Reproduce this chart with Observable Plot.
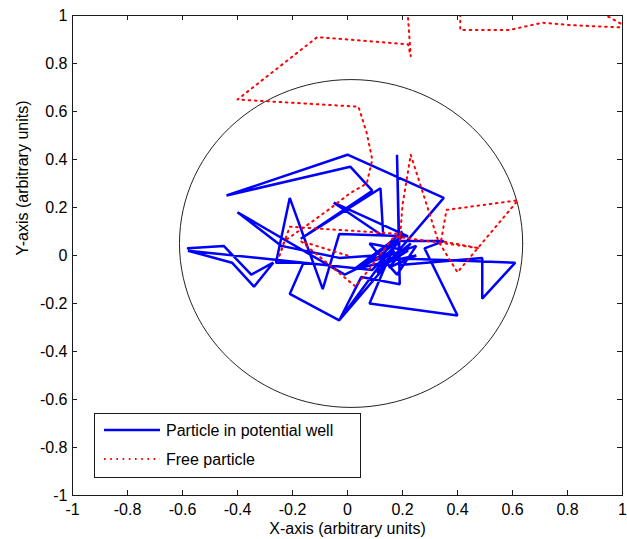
<!DOCTYPE html>
<html>
<head>
<meta charset="utf-8">
<script src="https://cdn.jsdelivr.net/npm/d3@7"></script>
<script src="https://cdn.jsdelivr.net/npm/@observablehq/plot@0.6"></script>
<style>
  html, body { margin: 0; padding: 0; background: #fff; }
  #chart { position: relative; width: 627px; height: 539px; }
</style>
</head>
<body>
<div id="chart"></div>
<script>
// ---- data ----
const xTicks = [-1, -0.8, -0.6, -0.4, -0.2, 0, 0.2, 0.4, 0.6, 0.8, 1];
const yTicks = [-1, -0.8, -0.6, -0.4, -0.2, 0, 0.2, 0.4, 0.6, 0.8, 1];
const xLabel = "X-axis (arbitrary units)";
const yLabel = "Y-axis (arbitrary units)";
const seriesNames = ["Particle in potential well", "Free particle"];

// Particle in potential well (blue solid)
const wellX = [-0.58, -0.45, -0.35, -0.27, -0.34, -0.42, -0.58, 0.09, 0.19, 0.35, 0.28, 0.40, 0.08, 0.15, 0.61, 0.49, 0.49, 0.19,
  0.18, 0.19, 0.05, -0.03, 0.35, 0.00, -0.44, 0.01, 0.09, -0.17, 0.12, 0.13, -0.05, 0.22, -0.03, -0.09, -0.21, -0.26, -0.16,
  -0.21, -0.03, 0.15, -0.01, -0.40, -0.24, -0.03, 0.10, 0.20, 0.05, 0.25, 0.15, 0.23,
  0.12, 0.22, 0.08, 0.18, 0.25, 0.10, 0.20, 0.02, 0.15, 0.06, 0.17, 0.11];
const wellY = [0.03, 0.04, -0.08, -0.03, -0.13, -0.03, 0.02, -0.06, 0.06, 0.06, 0.03, -0.25, -0.20, -0.01, -0.03, -0.18, -0.01, -0.04,
  0.42, -0.12, -0.09, -0.27, 0.24, 0.42, 0.25, 0.37, 0.27, 0.07, 0.28, 0.08, 0.22, 0.08, 0.09, -0.14, 0.24, -0.03, -0.03,
  -0.16, -0.27, 0.01, -0.08, 0.18, 0.04, -0.01, 0.00, 0.10, -0.05, 0.00, -0.05, 0.05,
  -0.05, 0.02, 0.05, -0.08, 0.04, -0.02, 0.08, -0.06, 0.05, -0.03, 0.02, -0.07];

// Free particle (red dotted)
const freeX = [0.00, -0.17, 0.03, 0.17, 0.48, 0.34, 0.36, 0.62, 0.40, 0.33, 0.23, 0.20, 0.19, 0.19, -0.21, -0.25, -0.23, -0.13,
  -0.07, 0.01, 0.07, 0.09, 0.07, 0.04, -0.40, -0.11, 0.22, 0.23, 0.21, 0.41, 0.41, 0.59, 0.71, 0.81, 1.00, 1.08, 1.08, 0.88];
const freeY = [0.00, 0.06, -0.13, 0.08, 0.03, 0.06, 0.19, 0.23, -0.07, 0.06, 0.42, 0.21, 0.06, 0.09, 0.12, -0.01, 0.06, 0.14,
  0.19, 0.26, 0.30, 0.40, 0.51, 0.62, 0.65, 0.91, 0.88, 0.83, 1.15, 1.15, 0.94, 0.94, 0.97, 0.96, 0.95, 0.94, 0.91, 1.04];

// Boundary of the well (center and radii in data units)
const wellCenter = [0.013, 0.05];
const wellRadii = [0.624, 0.683];

// ---- build tables ----
const well = wellX.map((x, i) => ({x, y: wellY[i]}));
const free = freeX.map((x, i) => ({x, y: freeY[i]}));
const circle = d3.range(0, 361, 3).map(a => ({
  x: wellCenter[0] + wellRadii[0] * Math.cos(a * Math.PI / 180),
  y: wellCenter[1] + wellRadii[1] * Math.sin(a * Math.PI / 180)
}));

const W = 627, H = 539, mL = 72, mR = 5, mT = 15, mB = 44;
const innerW = W - mL - mR, innerH = H - mT - mB;
const tick = 5;
const ink = "#1a1a1a";
const font = "'Liberation Sans', Arial, sans-serif";

const plot = Plot.plot({
  width: W, height: H,
  marginLeft: mL, marginRight: mR, marginTop: mT, marginBottom: mB,
  x: {domain: [-1, 1]},
  y: {domain: [-1, 1]},
  style: {fontFamily: font, fontSize: "16px", color: "#000", background: "#fff", overflow: "visible"},
  marks: [
    Plot.line(circle, {x: "x", y: "y", stroke: "#222", strokeWidth: 1}),
    Plot.line(well, {x: "x", y: "y", stroke: "#0000ff", strokeWidth: 2.5, strokeLinejoin: "miter", clip: true}),
    Plot.line(free, {x: "x", y: "y", stroke: "#ff0000", strokeWidth: 2, strokeDasharray: "1.6,4.6", clip: true}),
    Plot.frame({stroke: ink, strokeWidth: 1}),
    Plot.tickX(xTicks, {x: d => d, insetTop: innerH - tick, stroke: ink}),
    Plot.tickX(xTicks, {x: d => d, insetBottom: innerH - tick, stroke: ink}),
    Plot.tickY(yTicks, {y: d => d, insetRight: innerW - tick, stroke: ink}),
    Plot.tickY(yTicks, {y: d => d, insetLeft: innerW - tick, stroke: ink}),
    Plot.axisX({ticks: xTicks, tickSize: 0, tickPadding: 8, tickFormat: d => String(d), label: null}),
    Plot.axisY({ticks: yTicks, tickSize: 0, tickPadding: 5, tickFormat: d => String(d), label: null}),
    Plot.text([xLabel], {frameAnchor: "bottom", lineAnchor: "middle", dy: 33, text: d => d, fill: "#000"}),
    Plot.text([yLabel], {frameAnchor: "left", dx: -50, rotate: -90, text: d => d, fill: "#000"})
  ]
});
document.getElementById("chart").appendChild(plot);

// ---- legend (inside plot area, lower left) ----
const svg = d3.select(plot);
const lg = svg.append("g").attr("font-family", font).attr("font-size", 16).attr("text-anchor", "start");
lg.append("rect").attr("x", 94.5).attr("y", 413.5).attr("width", 266).attr("height", 64)
  .attr("fill", "#fff").attr("stroke", ink).attr("stroke-width", 1);
const entries = [
  {name: seriesNames[0], stroke: "#0000ff", dash: null, w: 2.5, y: 430},
  {name: seriesNames[1], stroke: "#ff0000", dash: "1.6,4.6", w: 2, y: 459}
];
entries.forEach(e => {
  lg.append("line").attr("x1", 104).attr("x2", 160).attr("y1", e.y).attr("y2", e.y)
    .attr("stroke", e.stroke).attr("stroke-width", e.w).attr("stroke-dasharray", e.dash);
  lg.append("text").attr("x", 166).attr("y", e.y).attr("dy", "0.35em").attr("fill", "#000")
    .attr("text-anchor", "start").text(e.name);
});
</script>
</body>
</html>
